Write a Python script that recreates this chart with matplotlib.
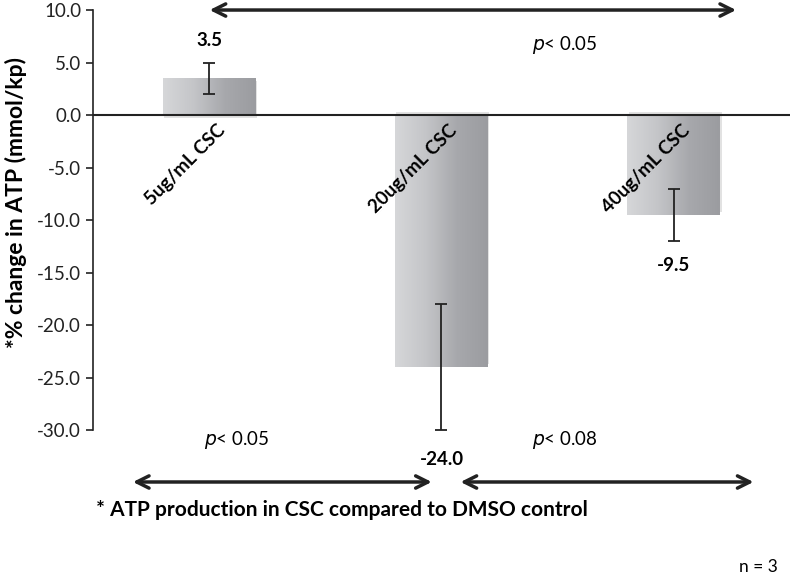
import matplotlib
matplotlib.use('Agg')
import numpy as np
import matplotlib.pyplot as plt
from matplotlib.colors import LinearSegmentedColormap

# data
groups = ['5ug/mL CSC', '20ug/mL CSC', '40ug/mL CSC']
values = [3.5, -24.0, -9.5]
errors = [1.5, 6.0, 2.5]
ylabel = '*% change in ATP (mmol/kp)'
footnote = '* ATP production in CSC compared to DMSO control'

plt.rcParams['font.family'] = ['Lato', 'DejaVu Sans']

fig = plt.figure(figsize=(7.9, 5.83), dpi=100)
ax = fig.add_axes([0.1177, 0.2624, 0.8823, 0.7204])
x = np.arange(len(groups))
width = 0.4

bars = ax.bar(x, values, width, color='none', edgecolor='none', zorder=2)

# grey gradient fill, light on the left, darker on the right
cmap = LinearSegmentedColormap.from_list('g', ['#d6d7d9', '#c4c5c8', '#a7a8ac', '#9b9ca0'])
grad = np.linspace(0, 1, 256).reshape(1, -1)
for b in bars:
    x0, y0 = b.get_x(), b.get_y()
    w, h = b.get_width(), b.get_height()
    # soft shadow
    ax.add_patch(plt.Rectangle((x0 + 0.006, y0 - 0.25 * np.sign(h)), w, h,
                               color='#e2e2e2', zorder=1, lw=0))
    im = ax.imshow(grad, cmap=cmap, aspect='auto', zorder=2,
                   extent=[x0, x0 + w, min(y0, y0 + h), max(y0, y0 + h)])
    im.set_clip_path(b)

ax.errorbar(x, values, yerr=errors, fmt='none', ecolor='#222222',
            elinewidth=1.3, capsize=4, capthick=1.3, zorder=3)
ax.axhline(0, color='#222222', lw=1.5, zorder=4)

ax.set_xlim(-0.5, 2.5)
ax.set_ylim(-30, 10)
ax.set_yticks(np.arange(-30, 10.1, 5))
ax.set_yticklabels(['%.1f' % t for t in np.arange(-30, 10.1, 5)], fontsize=13.5)
ax.tick_params(axis='y', direction='out', length=5, width=1.2, colors='#222222')
ax.set_xticks([])
for s in ['top', 'right', 'bottom']:
    ax.spines[s].set_visible(False)
ax.spines['left'].set_linewidth(1.2)
ax.spines['left'].set_color('#222222')
fig.text(0.02, 1 - 203 / 583, ylabel, rotation=90, ha='center', va='center',
         fontsize=16.5, fontweight='bold')

# value labels
ax.text(0, 7.1, '%.1f' % values[0], ha='center', va='center', fontsize=13.5, fontweight='bold')
ax.text(1, -32.85, '%.1f' % values[1], ha='center', va='center', fontsize=13.5,
        fontweight='bold', clip_on=False)
ax.text(2, -14.3, '%.1f' % values[2], ha='center', va='center', fontsize=13.5, fontweight='bold')

# category labels, rotated inside the plot
for xi, g in zip(x, groups):
    ax.text(xi + 0.03, -0.6, g, rotation=45, rotation_mode='anchor', ha='right',
            va='top', fontsize=13.5, fontweight='bold', zorder=5)

# significance arrows
arr = dict(arrowstyle='<->', color='#222222', lw=2.5, mutation_scale=22)
ax.annotate('', xy=(-0.01, 10), xytext=(2.28, 10), arrowprops=arr, annotation_clip=False)
ax.annotate('', xy=(-0.34, -34.95), xytext=(0.97, -34.95), arrowprops=arr, annotation_clip=False)
ax.annotate('', xy=(1.07, -34.95), xytext=(2.355, -34.95), arrowprops=arr, annotation_clip=False)

ax.text(1.53, 6.7, r'$\it{p}$< 0.05', ha='center', va='center', fontsize=13.5)
ax.text(0.12, -30.95, r'$\it{p}$< 0.05', ha='center', va='center', fontsize=13.5, clip_on=False)
ax.text(1.53, -30.95, r'$\it{p}$< 0.08', ha='center', va='center', fontsize=13.5, clip_on=False)

fig.text(0.121, 0.125, footnote, fontsize=15, fontweight='bold', va='center')
fig.text(0.985, 0.014, 'n = 3', fontsize=12.5, ha='right', va='bottom')

fig.savefig('out.png', dpi=100)
